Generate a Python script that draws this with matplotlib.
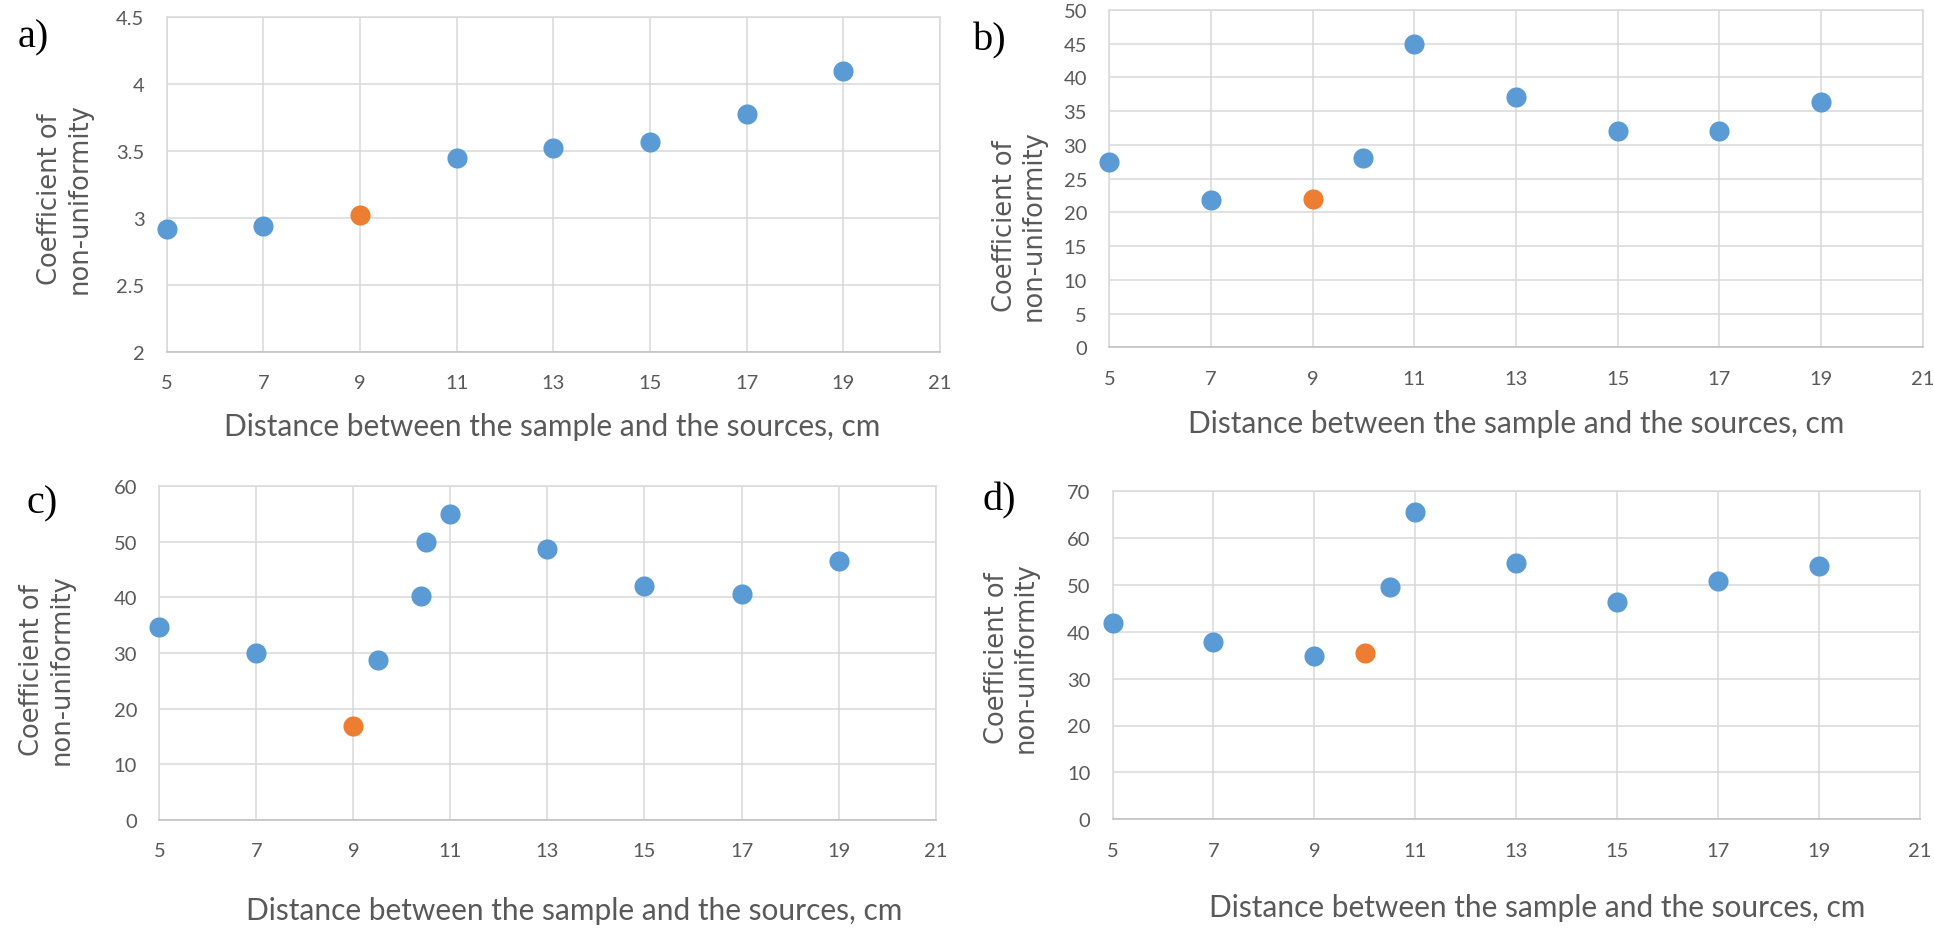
import matplotlib
matplotlib.use("Agg")
import matplotlib.pyplot as plt

W, H = 1934, 937

# ---------------- data ----------------
xticks = [5, 7, 9, 11, 13, 15, 17, 19, 21]

a_x = [5, 7, 11, 13, 15, 17, 19]
a_y = [2.92, 2.94, 3.45, 3.52, 3.57, 3.78, 4.10]
a_ox = [9]
a_oy = [3.02]
a_yticks = [2, 2.5, 3, 3.5, 4, 4.5]
a_yticklabels = ["2", "2.5", "3", "3.5", "4", "4.5"]

b_x = [5, 7, 10, 11, 13, 15, 17, 19]
b_y = [27.5, 21.9, 28.0, 44.9, 37.1, 32.1, 32.0, 36.4]
b_ox = [9]
b_oy = [22.0]
b_yticks = [0, 5, 10, 15, 20, 25, 30, 35, 40, 45, 50]

c_x = [5, 7, 9.5, 10.4, 10.5, 11, 13, 15, 17, 19]
c_y = [34.7, 30.0, 28.8, 40.2, 49.9, 55.1, 48.8, 42.0, 40.7, 46.6]
c_ox = [9]
c_oy = [16.9]
c_yticks = [0, 10, 20, 30, 40, 50, 60]

d_x = [5, 7, 9, 10.5, 11, 13, 15, 17, 19]
d_y = [41.9, 37.7, 34.8, 49.6, 65.5, 54.6, 46.3, 50.9, 54.0]
d_ox = [10]
d_oy = [35.4]
d_yticks = [0, 10, 20, 30, 40, 50, 60, 70]

panel_letters = ["a)", "b)", "c)", "d)"]
xlabel_text = "Distance between the sample and the sources, cm"
ylabel_text = "Coefficient of\nnon-uniformity"

# ---------------- style ----------------
BLUE = "#5B9BD5"
ORANGE = "#ED7D31"
GRID = "#D9D9D9"
AXIS = "#BFBFBF"
TXT = "#595959"
TICKFONT = "Lato"

fig = plt.figure(figsize=(W / 100, H / 100), dpi=100)
fig.patch.set_facecolor("white")


def px_axes(left, right, top, bottom):
    return fig.add_axes([left / W, 1 - bottom / H, (right - left) / W, (bottom - top) / H])


panels = [
    dict(box=(166.7, 940.0, 18.3, 352.7), bx=a_x, by=a_y, ox=a_ox, oy=a_oy,
         yt=a_yticks, ytl=a_yticklabels, ylim=(2, 4.5),
         xl=(552, 436), yl=(65, 199), let=(18, 47)),
    dict(box=(1109.3, 1922.7, 11.0, 348.3), bx=b_x, by=b_y, ox=b_ox, oy=b_oy,
         yt=b_yticks, ytl=[str(v) for v in b_yticks], ylim=(0, 50),
         xl=(1516, 433), yl=(1019, 226), let=(973, 50)),
    dict(box=(159.3, 935.6, 487.3, 820.7), bx=c_x, by=c_y, ox=c_ox, oy=c_oy,
         yt=c_yticks, ytl=[str(v) for v in c_yticks], ylim=(0, 60),
         xl=(574, 920), yl=(47, 670), let=(27, 513)),
    dict(box=(1112.5, 1919.8, 492.0, 820.3), bx=d_x, by=d_y, ox=d_ox, oy=d_oy,
         yt=d_yticks, ytl=[str(v) for v in d_yticks], ylim=(0, 70),
         xl=(1537, 917), yl=(1011, 658), let=(982, 510)),
]

for p, letter in zip(panels, panel_letters):
    ax = px_axes(*p["box"])
    ax.set_xlim(5, 21)
    ax.set_ylim(*p["ylim"])
    ax.set_xticks(xticks)
    ax.set_xticklabels([str(v) for v in xticks])
    ax.set_yticks(p["yt"])
    ax.set_yticklabels(p["ytl"])
    ax.grid(True, color=GRID, linewidth=1.1, zorder=0)
    ax.set_axisbelow(True)
    for s in ["top", "right", "left"]:
        ax.spines[s].set_color(GRID)
        ax.spines[s].set_linewidth(1.1)
    ax.spines["bottom"].set_color(AXIS)
    ax.spines["bottom"].set_linewidth(1.1)
    ax.tick_params(axis="both", length=0, labelsize=14.5, labelcolor=TXT)
    ax.tick_params(axis="y", pad=16)
    ax.tick_params(axis="x", pad=16)
    for lab in ax.get_xticklabels() + ax.get_yticklabels():
        lab.set_fontfamily(TICKFONT)
    ax.plot(p["bx"], p["by"], linestyle="none", marker="o", markersize=14.5,
            color=BLUE, markeredgewidth=0, clip_on=False, zorder=3)
    ax.plot(p["ox"], p["oy"], linestyle="none", marker="o", markersize=14.5,
            color=ORANGE, markeredgewidth=0, clip_on=False, zorder=3)

    fig.text(p["xl"][0] / W, 1 - p["xl"][1] / H, xlabel_text, ha="center",
             va="baseline", fontsize=21.5, color=TXT, family=TICKFONT)
    fig.text(p["yl"][0] / W, 1 - p["yl"][1] / H, ylabel_text, ha="center",
             va="center", rotation=90, fontsize=18.5, color=TXT,
             family="DejaVu Sans", multialignment="center", linespacing=1.15)
    fig.text(p["let"][0] / W, 1 - p["let"][1] / H, letter, ha="left",
             va="baseline", fontsize=29, color="black", family="Liberation Serif")

fig.savefig("out.png", dpi=100, facecolor="white")
